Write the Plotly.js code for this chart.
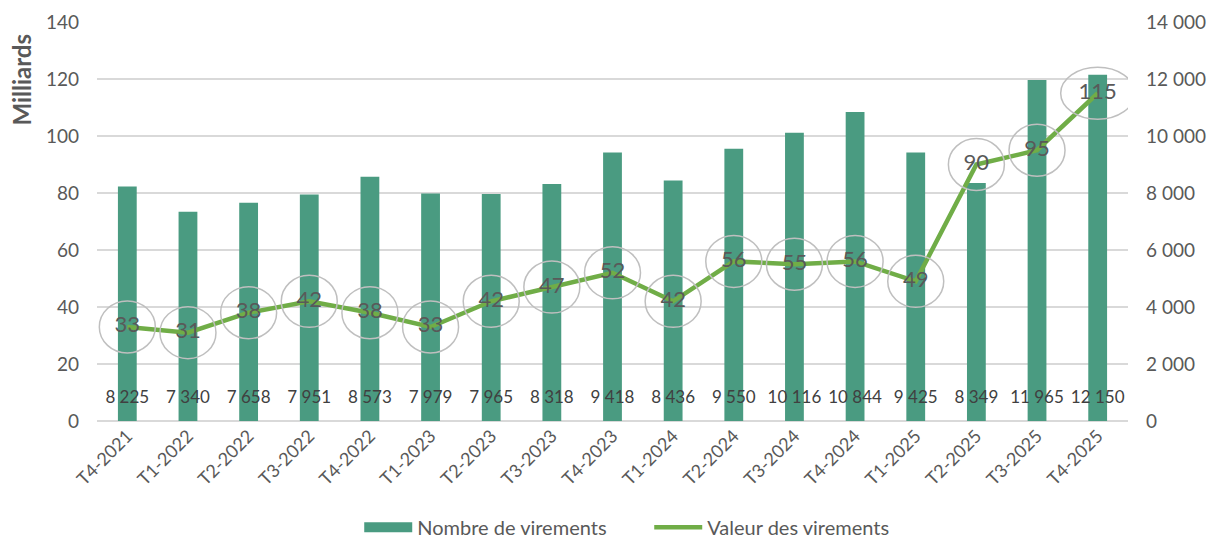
<!DOCTYPE html>
<html>
<head>
<meta charset="utf-8">
<script src="https://cdn.plot.ly/plotly-3.0.1.min.js"></script>
<style>html,body{margin:0;padding:0;background:#fff;}#chart{width:1209px;height:538px;}</style>
</head>
<body>
<div id="chart"></div>
<script>
const categories = ["T4-2021","T1-2022","T2-2022","T3-2022","T4-2022","T1-2023","T2-2023","T3-2023","T4-2023","T1-2024","T2-2024","T3-2024","T4-2024","T1-2025","T2-2025","T3-2025","T4-2025"];
const nombreVirements = [8225,7340,7658,7951,8573,7979,7965,8318,9418,8436,9550,10116,10844,9425,8349,11965,12150];
const valeurVirements = [33,31,38,42,38,33,42,47,52,42,56,55,56,49,90,95,115];
const leftTicks = [0,20,40,60,80,100,120,140];
const rightTicks = [0,2000,4000,6000,8000,10000,12000,14000];

const FONT = "Lato, 'Open Sans', sans-serif";
const GREY = "#595959";
const BAR = "#4a9b81";
const fmt = v => String(v).replace(/\B(?=(\d{3})+(?!\d))/g, " ");

const bars = {
  type: "bar", name: "Nombre de virements", showlegend: false,
  x: categories, y: nombreVirements,
  marker: {color: BAR},
  yaxis: "y", hoverinfo: "skip"
};
// legend entry with a wide rectangular swatch (no data drawn)
const barsLegend = {
  type: "scatter", mode: "lines", name: "Nombre de virements",
  x: [categories[0]], y: [null],
  line: {color: BAR, width: 14},
  yaxis: "y", hoverinfo: "skip"
};
const barLabels = {
  type: "scatter", mode: "text", showlegend: false,
  x: categories, y: categories.map(() => 780),
  text: nombreVirements.map(fmt),
  textposition: "middle center",
  textfont: {family: FONT, size: 17, color: "#404040"},
  yaxis: "y", hoverinfo: "skip"
};
const line = {
  type: "scatter", mode: "lines+text", name: "Valeur des virements",
  x: categories, y: valeurVirements,
  text: valeurVirements.map(String),
  textposition: "middle center",
  textfont: {family: FONT, size: 22, color: GREY},
  line: {color: "#70ad47", width: 4.5},
  yaxis: "y2", hoverinfo: "skip"
};

const shapes = valeurVirements.map((v, i) => {
  const w = String(v).length > 2 ? 37 : 28;
  return {
    type: "circle", layer: "above",
    xref: "x", yref: "y2",
    xsizemode: "pixel", ysizemode: "pixel",
    xanchor: i, yanchor: v,
    x0: -w, x1: w, y0: -26, y1: 26,
    line: {color: "#bfbfbf", width: 1.5}
  };
});

const layout = {
  width: 1209, height: 538,
  margin: {l: 97, r: 81, t: 22, b: 117, autoexpand: false},
  paper_bgcolor: "#fff", plot_bgcolor: "#fff",
  font: {family: FONT, color: GREY, size: 19},
  separators: ", ",
  bargap: 0.69,
  showlegend: true,
  legend: {orientation: "h", xref: "container", yref: "container", x: 0.537, xanchor: "center",
           y: 0.02, yanchor: "middle", itemwidth: 48, entrywidth: 227, entrywidthmode: "pixels",
           font: {family: FONT, size: 20, color: GREY}, traceorder: "normal"},
  xaxis: {type: "category", range: [-0.5, categories.length - 0.5], tickangle: -45,
          tickfont: {family: FONT, size: 18, color: GREY},
          showgrid: false, showline: false, ticks: "", zeroline: false, automargin: false},
  yaxis: {side: "right", range: [0, 14000], tickvals: rightTicks, tickformat: ",d",
          showgrid: false, zeroline: true, zerolinecolor: "#d9d9d9", zerolinewidth: 1.5,
          showline: false, ticks: "", ticklabelstandoff: 17, automargin: false,
          tickfont: {family: FONT, size: 19, color: GREY}},
  yaxis2: {side: "left", overlaying: "y", range: [0, 140], tickvals: leftTicks,
           showgrid: true, gridcolor: "#d9d9d9", gridwidth: 1.2, zeroline: false,
           showline: false, ticks: "", ticklabelstandoff: 17, automargin: false,
           tickfont: {family: FONT, size: 19, color: GREY}},
  shapes: shapes,
  annotations: [{
    text: "<b>Milliards</b>", textangle: -90, xref: "paper", yref: "paper",
    x: -0.073, y: 0.855, xanchor: "center", yanchor: "middle", showarrow: false,
    font: {family: FONT, size: 24, color: GREY}
  }]
};

Plotly.newPlot("chart", [bars, barsLegend, barLabels, line], layout, {displayModeBar: false, staticPlot: true});
</script>
</body>
</html>
